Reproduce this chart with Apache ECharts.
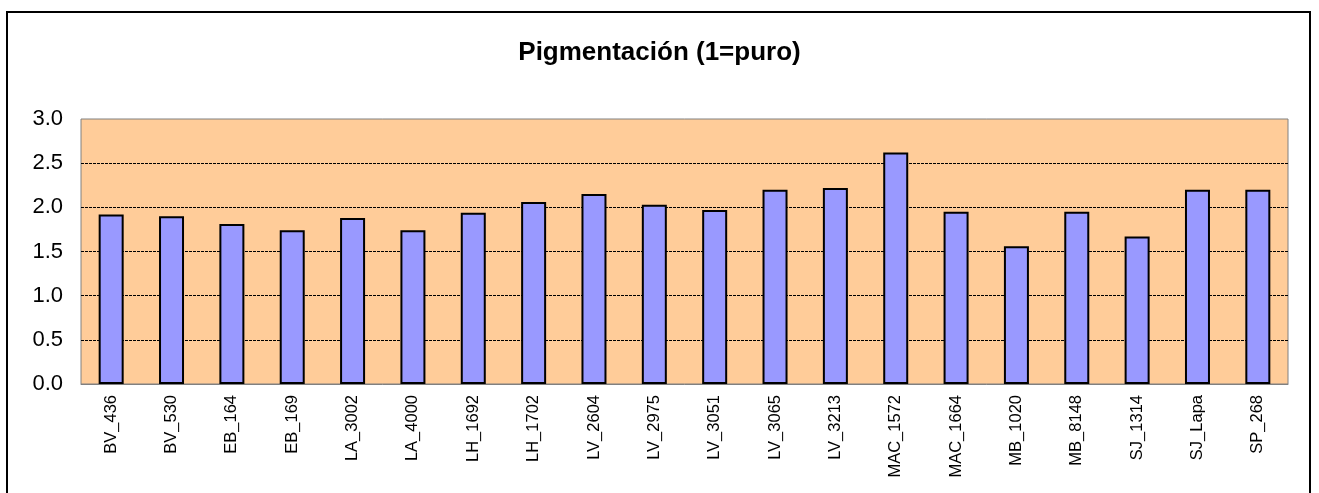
<!DOCTYPE html>
<html>
<head>
<meta charset="utf-8">
<script src="https://cdn.jsdelivr.net/npm/echarts@6/dist/echarts.min.js"></script>
<style>
  html, body { margin: 0; padding: 0; background: #ffffff; }
  #chart { width: 1319px; height: 493px; }
</style>
</head>
<body>
<div id="chart"></div>
<script>
const categories = ['BV_436','BV_530','EB_164','EB_169','LA_3002','LA_4000','LH_1692','LH_1702','LV_2604','LV_2975','LV_3051','LV_3065','LV_3213','MAC_1572','MAC_1664','MB_1020','MB_8148','SJ_1314','SJ_Lapa','SP_268'];
const pigmentacion = [1.92,1.90,1.81,1.74,1.88,1.74,1.94,2.06,2.15,2.03,1.97,2.20,2.22,2.62,1.95,1.56,1.95,1.67,2.20,2.20];
const yTicks = [0, 0.5, 1.0, 1.5, 2.0, 2.5, 3.0];

const FONT = '"Liberation Sans", Arial, sans-serif';
const chart = echarts.init(document.getElementById('chart'), null, { renderer: 'canvas' });
chart.setOption({
  animation: false,
  backgroundColor: '#ffffff',
  title: {
    text: 'Pigmentación (1=puro)',
    left: 'center',
    top: 35,
    textStyle: { fontFamily: FONT, fontSize: 26, fontWeight: 'bold', color: '#000' }
  },
  graphic: [{
    type: 'rect',
    shape: { x: 7, y: 12, width: 1303, height: 520 },
    style: { fill: 'none', stroke: '#000', lineWidth: 2 },
    silent: true,
    z: 100
  }],
  grid: {
    left: 81, right: 31, top: 119, bottom: 109,
    show: true,
    backgroundColor: '#FFCC99',
    borderColor: '#808080',
    borderWidth: 1
  },
  xAxis: {
    type: 'category',
    data: categories,
    axisLine: { show: true, lineStyle: { color: '#808080', width: 1 } },
    axisTick: { show: false },
    axisLabel: { rotate: 90, fontFamily: FONT, fontSize: 16.5, color: '#000', margin: 11, interval: 0 }
  },
  yAxis: {
    type: 'value',
    min: yTicks[0],
    max: yTicks[yTicks.length - 1],
    interval: 0.5,
    axisLine: { show: false },
    axisTick: { show: false },
    axisLabel: { fontFamily: FONT, fontSize: 22, color: '#000', margin: 18, formatter: v => v.toFixed(1) },
    splitLine: {
      show: true,
      lineStyle: { color: ['transparent','#000','#000','#000','#000','#000','transparent'], type: [3, 1], width: 1.2 }
    }
  },
  series: [{
    type: 'bar',
    data: pigmentacion,
    barWidth: 25,
    itemStyle: { color: '#9999FF', borderColor: '#000', borderWidth: 2 }
  }]
});
</script>
</body>
</html>
